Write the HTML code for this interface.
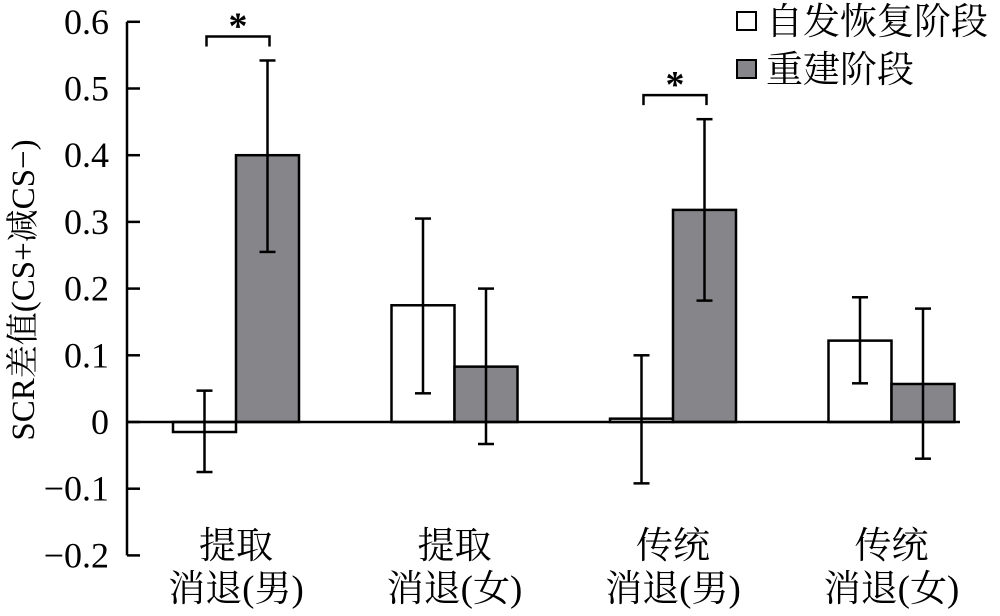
<!DOCTYPE html>
<html><head><meta charset="utf-8"><style>
body{margin:0;background:#fff}
svg text{font-family:"Liberation Serif","Noto Serif CJK SC","Noto Sans CJK SC",serif;fill:#000}
</style></head><body>
<svg id="chart" width="1000" height="611" viewBox="0 0 1000 611" xmlns="http://www.w3.org/2000/svg"></svg>
<script>
const categoriesL1 = ["提取","提取","传统","传统"];
const categoriesL2 = ["消退(男)","消退(女)","消退(男)","消退(女)"];
const spontValues = [-0.015, 0.175, 0.005, 0.122];
const spontLow = [-0.075, 0.043, -0.092, 0.058];
const spontHigh = [0.047, 0.305, 0.100, 0.187];
const reinstValues = [0.400, 0.083, 0.318, 0.057];
const reinstLow = [0.255, -0.033, 0.182, -0.055];
const reinstHigh = [0.542, 0.200, 0.454, 0.170];
const yTicks = [-0.2,-0.1,0,0.1,0.2,0.3,0.4,0.5,0.6];
const yTickLabels = ["−0.2","−0.1","0","0.1","0.2","0.3","0.4","0.5","0.6"];
const sigGroups = [0, 2];

const svg = document.getElementById('chart');
const NS = 'http://www.w3.org/2000/svg';
const FONT = '"Liberation Serif","Noto Serif CJK SC","Noto Sans CJK SC",serif';
const y = v => 422 - v * 667;
const groupX = i => 236 + i * 218.5;
const barW = 63;
function mk(tag, attrs, parent){const e=document.createElementNS(NS,tag);for(const k in attrs)e.setAttribute(k,attrs[k]);if(tag==='text')e.setAttribute('font-family',FONT);(parent||svg).appendChild(e);return e;}

let ax = mk('line',{x1:127,y1:y(0.6),x2:127,y2:y(-0.2),stroke:'#000','stroke-width':2.5});


yTicks.forEach((t,i)=>{
  const tk = mk('line',{x1:127,x2:140,y1:y(t),y2:y(t),stroke:'#000','stroke-width':2.5});
  
  
  const tl = mk('text',{x:109,y:y(t)+12,'text-anchor':'end','font-size':36});
  tl.textContent = yTickLabels[i];
  
  
});
const yt = mk('text',{x:0,y:0,'text-anchor':'middle','font-size':33,transform:'translate(34,290) rotate(-90)'});
yt.textContent = 'SCR差值(CS+减CS−)';



function bar(cx, v, lo, hi, fill, name){
  const top = Math.min(y(v), y(0)), h = Math.abs(y(v)-y(0));
  const r = mk('rect',{x:cx-barW/2,y:top,width:barW,height:h,fill:fill,stroke:'#000','stroke-width':2.5});
  
  
  const g = mk('g',{stroke:'#000','stroke-width':2.5});
  
  
  mk('line',{x1:cx,x2:cx,y1:y(lo),y2:y(hi)},g);
  mk('line',{x1:cx-8,x2:cx+8,y1:y(lo),y2:y(lo)},g);
  mk('line',{x1:cx-8,x2:cx+8,y1:y(hi),y2:y(hi)},g);
}
categoriesL1.forEach((c,i)=>{
  const gx = groupX(i);
  bar(gx-barW/2, spontValues[i], spontLow[i], spontHigh[i], '#fff', 'bar-spontaneous-recovery');
  bar(gx+barW/2, reinstValues[i], reinstLow[i], reinstHigh[i], '#86868a', 'bar-reinstatement');
  const t1 = mk('text',{x:gx,y:558,'text-anchor':'middle','font-size':37});
  t1.textContent = c;
  
  
  const t2 = mk('text',{x:gx,y:601,'text-anchor':'middle','font-size':37});
  t2.textContent = categoriesL2[i];
  
  
});
let zl = mk('line',{x1:127,x2:960,y1:y(0),y2:y(0),stroke:'#000','stroke-width':2.5});



sigGroups.forEach(i=>{
  const gx = groupX(i);
  const by = y(Math.max(spontHigh[i], reinstHigh[i])) - 24;
  const x1 = gx-barW/2+2, x2 = gx+barW/2+2;
  const p = mk('path',{d:`M${x1},${by+10}V${by}H${x2}V${by+10}`,fill:'none',stroke:'#000','stroke-width':2.5});
  
  
  const s = mk('text',{x:(x1+x2)/2,y:by+2,'text-anchor':'middle','font-size':38,'font-weight':'bold'});
  s.textContent = '*';
  
  
});

const lg = mk('g',{});


[['#fff','自发恢复阶段',21],['#86868a','重建阶段',69]].forEach(([f,t,cy])=>{
  const r = mk('rect',{x:737,y:cy-9,width:19,height:18,fill:f,stroke:'#000','stroke-width':2},lg);
  
  
  const tx = mk('text',{x:766,y:cy+13,'font-size':37},lg);
  tx.textContent = t;
  
  
});
</script>
</body></html>
